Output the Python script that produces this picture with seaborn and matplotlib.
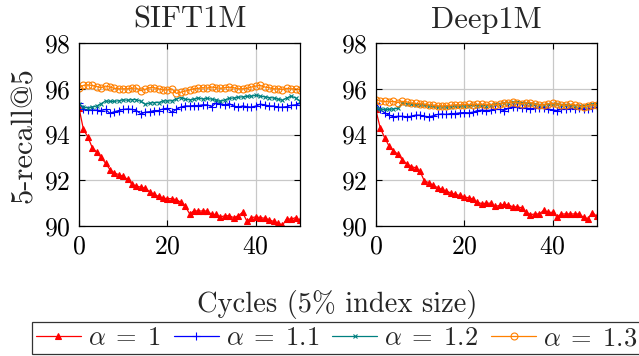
import numpy as np
import pandas as pd
import matplotlib
matplotlib.use("Agg")
import matplotlib.pyplot as plt
import seaborn as sns

cycles = list(range(51))

sift_a10 = [95.17, 94.23, 93.9, 93.43, 93.24, 93.0, 92.75, 92.47, 92.32, 92.25,
            92.17, 92.04, 91.82, 91.75, 91.7, 91.65, 91.5, 91.38, 91.3, 91.22,
            91.2, 91.2, 91.15, 91.05, 90.88, 90.54, 90.66, 90.66, 90.66, 90.66,
            90.51, 90.51, 90.4, 90.45, 90.45, 90.37, 90.45, 90.6, 90.2, 90.37,
            90.4, 90.37, 90.34, 90.28, 90.2, 90.14, 90.03, 90.32, 90.3, 90.37, 90.25]
sift_a11 = [95.4, 95.1, 95.08, 95.07, 95.07, 95.05, 95.1, 94.93, 95.0, 95.05,
            95.1, 95.12, 95.1, 95.05, 94.9, 94.98, 95.0, 95.05, 95.05, 95.12,
            95.15, 94.97, 95.1, 95.2, 95.25, 95.25, 95.27, 95.27, 95.3, 95.3,
            95.22, 95.38, 95.35, 95.3, 95.35, 95.25, 95.2, 95.25, 95.22, 95.2,
            95.25, 95.33, 95.3, 95.25, 95.25, 95.2, 95.2, 95.22, 95.28, 95.3, 95.36]
sift_a12 = [95.35, 95.2, 95.17, 95.2, 95.25, 95.35, 95.47, 95.45, 95.45, 95.48,
            95.52, 95.5, 95.53, 95.53, 95.45, 95.32, 95.38, 95.4, 95.4, 95.47,
            95.47, 95.48, 95.55, 95.62, 95.55, 95.52, 95.55, 95.6, 95.55, 95.58,
            95.55, 95.5, 95.45, 95.52, 95.58, 95.6, 95.63, 95.65, 95.67, 95.68,
            95.72, 95.68, 95.65, 95.62, 95.6, 95.55, 95.5, 95.6, 95.68, 95.6, 95.45]
sift_a13 = [96.05, 96.15, 96.17, 96.15, 96.1, 96.05, 96.12, 96.08, 96.02, 96.0,
            96.0, 96.0, 96.03, 96.03, 95.92, 95.98, 96.05, 96.05, 96.0, 95.95,
            95.95, 96.0, 95.8, 95.85, 95.9, 95.95, 96.0, 96.02, 96.05, 96.03,
            96.08, 96.05, 96.02, 96.05, 96.07, 96.05, 96.0, 96.0, 96.02, 96.08,
            96.12, 96.15, 96.08, 96.05, 96.0, 96.0, 95.97, 96.02, 96.0, 96.0, 95.95]

deep_a10 = [95.1, 94.3, 93.87, 93.5, 93.3, 93.14, 92.9, 92.73, 92.6, 92.55,
            92.4, 91.97, 91.9, 91.78, 91.68, 91.6, 91.52, 91.45, 91.38, 91.34,
            91.27, 91.24, 91.18, 91.04, 90.98, 91.0, 91.0, 90.86, 90.9, 90.95,
            90.92, 90.84, 90.84, 90.8, 90.6, 90.5, 90.53, 90.53, 90.69, 90.6,
            90.6, 90.4, 90.53, 90.53, 90.53, 90.53, 90.53, 90.38, 90.32, 90.58, 90.43]
deep_a11 = [95.39, 95.1, 94.95, 94.85, 94.78, 94.8, 94.8, 94.78, 94.8, 94.85,
            94.85, 94.8, 94.78, 94.82, 94.88, 94.9, 94.88, 94.92, 94.92, 94.95,
            94.96, 94.95, 94.98, 95.05, 95.07, 95.05, 95.07, 95.1, 95.1, 95.05,
            95.15, 95.22, 95.2, 95.15, 95.17, 95.12, 95.15, 95.15, 95.18, 95.12,
            95.08, 95.05, 95.1, 95.12, 95.15, 95.12, 95.15, 95.12, 95.1, 95.15, 95.2]
deep_a12 = [95.14, 95.12, 95.1, 95.1, 95.12, 95.15, 95.38, 95.35, 95.32, 95.3,
            95.3, 95.28, 95.25, 95.23, 95.2, 95.21, 95.2, 95.22, 95.25, 95.23,
            95.25, 95.26, 95.28, 95.27, 95.28, 95.27, 95.3, 95.32, 95.35, 95.38,
            95.4, 95.42, 95.43, 95.4, 95.38, 95.35, 95.33, 95.3, 95.3, 95.32,
            95.34, 95.33, 95.3, 95.3, 95.28, 95.27, 95.25, 95.27, 95.3, 95.32, 95.32]
deep_a13 = [95.53, 95.47, 95.45, 95.43, 95.45, 95.4, 95.45, 95.43, 95.38, 95.36,
            95.35, 95.33, 95.3, 95.28, 95.26, 95.24, 95.27, 95.28, 95.3, 95.3,
            95.31, 95.32, 95.3, 95.32, 95.33, 95.3, 95.32, 95.3, 95.33, 95.38,
            95.4, 95.42, 95.4, 95.35, 95.38, 95.4, 95.33, 95.3, 95.3, 95.35,
            95.36, 95.33, 95.3, 95.28, 95.32, 95.3, 95.25, 95.22, 95.26, 95.3, 95.3]

titles = ["SIFT1M", "Deep1M"]
series_labels = [r"$\alpha\;=\;1$", r"$\alpha\;=\;1.1$", r"$\alpha\;=\;1.2$", r"$\alpha\;=\;1.3$"]
yticks = [90, 92, 94, 96, 98]
xticks = [0, 20, 40]

sns.set_theme(style="ticks")
plt.rcParams["font.family"] = ["cmr10", "DejaVu Serif"]
plt.rcParams["mathtext.fontset"] = "cm"
plt.rcParams["axes.formatter.use_mathtext"] = True
plt.rcParams["axes.unicode_minus"] = False

colors = ["#ff0000", "#0000ff", "#008080", "#ff8000"]
markers = ["^", "+", "x", "o"]
msizes = [4.5, 6, 3.5, 5]

datasets = [
    [sift_a10, sift_a11, sift_a12, sift_a13],
    [deep_a10, deep_a11, deep_a12, deep_a13],
]

fig = plt.figure(figsize=(6.39, 3.56), dpi=100)
ax_w = 0.346
ax_h = 0.514
axes = [fig.add_axes([0.1236, 0.365, ax_w, ax_h]),
        fig.add_axes([0.588, 0.365, ax_w, ax_h])]

for ax, title, series in zip(axes, titles, datasets):
    for k, vals in enumerate(series):
        df = pd.DataFrame({"cycle": cycles, "recall": vals})
        mfc = "none" if markers[k] == "o" else colors[k]
        sns.lineplot(data=df, x="cycle", y="recall", ax=ax, color=colors[k],
                     marker=markers[k], markersize=msizes[k], linewidth=0.9,
                     markerfacecolor=mfc, markeredgecolor=colors[k],
                     markeredgewidth=0.8, label=series_labels[k], legend=False)
    ax.set_xlim(0, 50)
    ax.set_ylim(90, 98)
    ax.set_xticks(xticks)
    ax.set_yticks(yticks)
    ax.grid(True, color="#c8c8c8", linewidth=0.9)
    ax.set_axisbelow(True)
    ax.tick_params(direction="in", length=4, width=0.8, top=True, right=True,
                   labelsize=18.5, colors="black", pad=6)
    for sp in ax.spines.values():
        sp.set_color("black")
        sp.set_linewidth(0.9)
    ax.set_title(title, fontsize=22, pad=11)
    ax.set_xlabel("")
    ax.set_ylabel("")

axes[0].set_ylabel("5-recall@5", fontsize=22, labelpad=4)
fig.text(0.527, 0.1244, "Cycles (5% index size)", ha="center", va="baseline", fontsize=20.5)

h, l = axes[0].get_legend_handles_labels()
leg = fig.legend(h, l, loc="center", bbox_to_anchor=(0.527, 0.05), ncol=4,
                 frameon=True, fancybox=False, edgecolor="black", fontsize=19,
                 handlelength=1.7, handletextpad=0.27, columnspacing=0.5,
                 borderpad=0.15, borderaxespad=0)
leg.get_frame().set_linewidth(0.9)

fig.savefig("out.png", dpi=100)
